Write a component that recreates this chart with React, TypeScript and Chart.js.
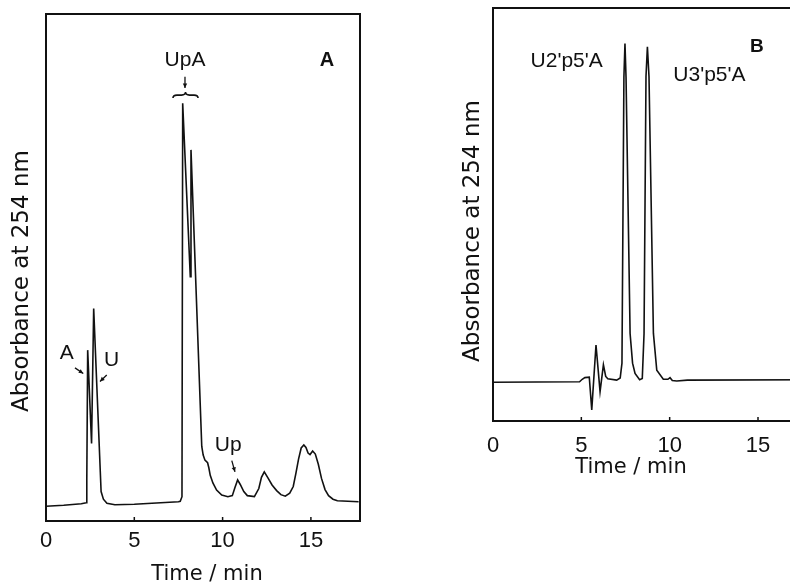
import React, { useEffect, useRef } from "react";
import { Chart, registerables } from "chart.js";

Chart.register(...registerables);

// ---------- data ----------
const timeTicks = [0, 5, 10, 15];

// Panel A chromatogram (time in min, absorbance in arbitrary units)
const timeA = [
  0.0, 1.0, 2.0, 2.28, 2.31, 2.36, 2.58, 2.7, 3.12, 3.25, 3.45, 3.9, 5.0, 6.5, 7.5, 7.6, 7.7,
  7.74, 8.17, 8.21, 8.82, 8.9, 9.0, 9.15, 9.22, 9.3, 9.45, 9.66, 9.95, 10.3, 10.55, 10.7,
  10.85, 11.0, 11.2, 11.4, 11.8, 12.05, 12.2, 12.36, 12.55, 12.8, 13.06, 13.3, 13.55, 13.8,
  14.0, 14.15, 14.3, 14.45, 14.6, 14.72, 14.84, 14.95, 15.1, 15.25, 15.42, 15.6, 15.8, 16.0,
  16.25, 16.5, 17.7,
];
const absA = [
  2.9, 3.1, 3.4, 3.6, 8.0, 33.7, 15.3, 41.9, 5.8, 4.3, 3.5, 3.2, 3.3, 3.6, 3.8, 3.9, 4.8,
  82.4, 48.2, 73.2, 14.7, 13.0, 12.0, 11.5, 10.5, 9.0, 7.5, 6.1, 5.1, 4.8, 5.0, 6.6,
  8.1, 7.2, 5.8, 5.0, 4.8, 6.4, 8.6, 9.7, 8.6, 7.1, 6.0, 5.2, 4.9, 5.5,
  6.8, 9.4, 12.2, 14.4, 15.0, 14.5, 13.4, 13.1, 13.8, 13.2, 11.2, 8.4, 6.2, 5.0,
  4.3, 4.0, 3.8,
];

// Panel B chromatogram
const timeB = [
  0.0, 4.9, 5.05, 5.2, 5.45, 5.59, 5.83, 6.06, 6.25, 6.38, 6.5, 7.0, 7.2, 7.3, 7.41, 7.47,
  7.53, 7.76, 7.9, 8.04, 8.3, 8.45, 8.55, 8.66, 8.74, 8.83, 9.08, 9.27, 9.64, 9.9, 10.02,
  10.15, 10.4, 11.0, 18.0,
];
const absB = [
  9.4, 9.5, 10.1, 10.5, 10.6, 2.7, 18.4, 7.1, 13.6, 10.8, 10.2, 9.9, 10.4, 14.0, 83.3, 91.4,
  83.3, 21.2, 14.0, 11.5, 10.0, 10.3, 21.2, 83.4, 90.6, 83.4, 21.2, 12.3, 10.1, 10.1, 10.5,
  9.8, 9.7, 9.9, 10.0,
];

// ---------- drawing helpers ----------
const INK = "#111";

function arrow(ctx: CanvasRenderingContext2D, x1: number, y1: number, x2: number, y2: number) {
  ctx.beginPath();
  ctx.moveTo(x1, y1);
  ctx.lineTo(x2, y2);
  ctx.stroke();
  const a = Math.atan2(y2 - y1, x2 - x1);
  const h = 5;
  ctx.beginPath();
  ctx.moveTo(x2, y2);
  ctx.lineTo(x2 - h * Math.cos(a - 0.45), y2 - h * Math.sin(a - 0.45));
  ctx.lineTo(x2 - h * Math.cos(a + 0.45), y2 - h * Math.sin(a + 0.45));
  ctx.closePath();
  ctx.fill();
}

const decorPlugin = {
  id: "decor",
  afterDraw(chart: any, _args: any, opts: any) {
    const ctx: CanvasRenderingContext2D = chart.ctx;
    const { left, top, right, bottom } = chart.chartArea;
    const xs = chart.scales.x;
    const ys = chart.scales.y;
    const X = (t: number) => xs.getPixelForValue(t);
    const Y = (v: number) => ys.getPixelForValue(v);
    ctx.save();
    ctx.strokeStyle = INK;
    ctx.fillStyle = INK;
    // frame
    ctx.lineWidth = 2;
    ctx.strokeRect(left, top, right - left, bottom - top);
    // inward tick marks
    ctx.lineWidth = 1.5;
    timeTicks.forEach((t) => {
      if (t <= 0) return;
      const px = X(t);
      ctx.beginPath();
      ctx.moveTo(px, bottom);
      ctx.lineTo(px, bottom - 4);
      ctx.stroke();
    });
    // axis titles
    ctx.textAlign = "center";
    ctx.textBaseline = "middle";
    ctx.font = "23px 'DejaVu Sans'";
    ctx.save();
    ctx.translate(opts.yTitle.x, opts.yTitle.y);
    ctx.rotate(-Math.PI / 2);
    ctx.fillText(opts.yTitle.text, 0, 0);
    ctx.restore();
    ctx.font = "21px 'DejaVu Sans'";
    ctx.fillText(opts.xTitle.text, opts.xTitle.x, opts.xTitle.y);
    // notes
    (opts.notes || []).forEach((n: any) => {
      ctx.font = n.font;
      ctx.fillText(n.text, X(n.t), Y(n.v));
    });
    // arrows
    ctx.lineWidth = 1.3;
    (opts.arrows || []).forEach((a: any) => {
      arrow(ctx, X(a[0]), Y(a[1]), X(a[2]), Y(a[3]));
    });
    // brace
    if (opts.brace) {
      const b = opts.brace;
      const x1 = X(b.t1);
      const x2 = X(b.t2);
      const xm = (x1 + x2) / 2;
      const y = Y(b.v);
      ctx.lineWidth = 1.6;
      ctx.beginPath();
      ctx.moveTo(x1, y + 3);
      ctx.quadraticCurveTo(x1, y, x1 + 4, y);
      ctx.lineTo(xm - 4, y);
      ctx.quadraticCurveTo(xm, y, xm, y - 3);
      ctx.quadraticCurveTo(xm, y, xm + 4, y);
      ctx.lineTo(x2 - 4, y);
      ctx.quadraticCurveTo(x2, y, x2, y + 3);
      ctx.stroke();
    }
    ctx.restore();
  },
};

function makeConfig(
  times: number[],
  values: number[],
  xMax: number,
  pad: { left: number; top: number; right: number },
  axisHeight: number,
  tickPad: number,
  decor: any
): any {
  return {
    type: "line",
    data: {
      datasets: [
        {
          data: times.map((t, i) => ({ x: t, y: values[i] })),
          borderColor: INK,
          borderWidth: 1.6,
          pointRadius: 0,
          tension: 0,
          fill: false,
        },
      ],
    },
    options: {
      animation: false,
      responsive: false,
      maintainAspectRatio: false,
      layout: { padding: { left: pad.left, top: pad.top, right: pad.right, bottom: 0 } },
      plugins: {
        legend: { display: false },
        tooltip: { enabled: false },
        decor,
      },
      scales: {
        x: {
          type: "linear",
          min: 0,
          max: xMax,
          afterBuildTicks: (scale: any) => {
            scale.ticks = timeTicks.map((v) => ({ value: v }));
          },
          afterFit: (scale: any) => {
            scale.height = axisHeight;
          },
          grid: { display: false, drawTicks: false },
          border: { display: false },
          ticks: {
            color: INK,
            padding: tickPad,
            autoSkip: false,
            maxRotation: 0,
            font: { family: "'Liberation Sans'", size: 22 },
          },
        },
        y: { display: false, min: 0, max: 100 },
      },
    },
    plugins: [decorPlugin],
  };
}

export default function App() {
  const refA = useRef<HTMLCanvasElement>(null);
  const refB = useRef<HTMLCanvasElement>(null);

  useEffect(() => {
    const chartA = new Chart(
      refA.current as HTMLCanvasElement,
      makeConfig(timeA, absA, 17.78, { left: 46, top: 14, right: 20 }, 66, 7, {
        yTitle: { text: "Absorbance at 254 nm", x: 22, y: 281 },
        xTitle: { text: "Time / min", x: 207, y: 575 },
        notes: [
          { text: "UpA", t: 7.87, v: 90.9, font: "21px 'Liberation Sans'" },
          { text: "A", t: 15.91, v: 90.9, font: "bold 20px 'Liberation Sans'" },
          { text: "A", t: 1.17, v: 33.1, font: "21px 'Liberation Sans'" },
          { text: "U", t: 3.72, v: 31.8, font: "21px 'Liberation Sans'" },
          { text: "Up", t: 10.32, v: 15.0, font: "21px 'Liberation Sans'" },
        ],
        arrows: [
          [7.87, 87.6, 7.87, 85.4],
          [1.64, 30.2, 2.11, 29.1],
          [3.44, 28.8, 3.06, 27.5],
          [10.52, 11.9, 10.7, 9.7],
        ],
        brace: { t1: 7.19, t2: 8.61, v: 84.0 },
      })
    );
    const chartB = new Chart(
      refB.current as HTMLCanvasElement,
      makeConfig(timeB, absB, 18.0, { left: 73, top: 8, right: 9 }, 59, 12, {
        yTitle: { text: "Absorbance at 254 nm", x: 53, y: 231 },
        xTitle: { text: "Time / min", x: 211, y: 468 },
        notes: [
          { text: "U2'p5'A", t: 4.17, v: 87.0, font: "21px 'Liberation Sans'" },
          { text: "U3'p5'A", t: 12.25, v: 83.8, font: "21px 'Liberation Sans'" },
          { text: "B", t: 14.93, v: 90.6, font: "bold 19px 'Liberation Sans'" },
        ],
        arrows: [],
      })
    );
    return () => {
      chartA.destroy();
      chartB.destroy();
    };
  }, []);

  return (
    <div
      style={{
        position: "fixed",
        left: 0,
        top: 0,
        width: 790,
        height: 587,
        overflow: "hidden",
        background: "#fff",
      }}
    >
      <canvas
        ref={refA}
        width={380}
        height={587}
        style={{ position: "absolute", left: 0, top: 0, width: 380, height: 587 }}
      />
      <canvas
        ref={refB}
        width={400}
        height={480}
        style={{ position: "absolute", left: 420, top: 0, width: 400, height: 480 }}
      />
    </div>
  );
}
